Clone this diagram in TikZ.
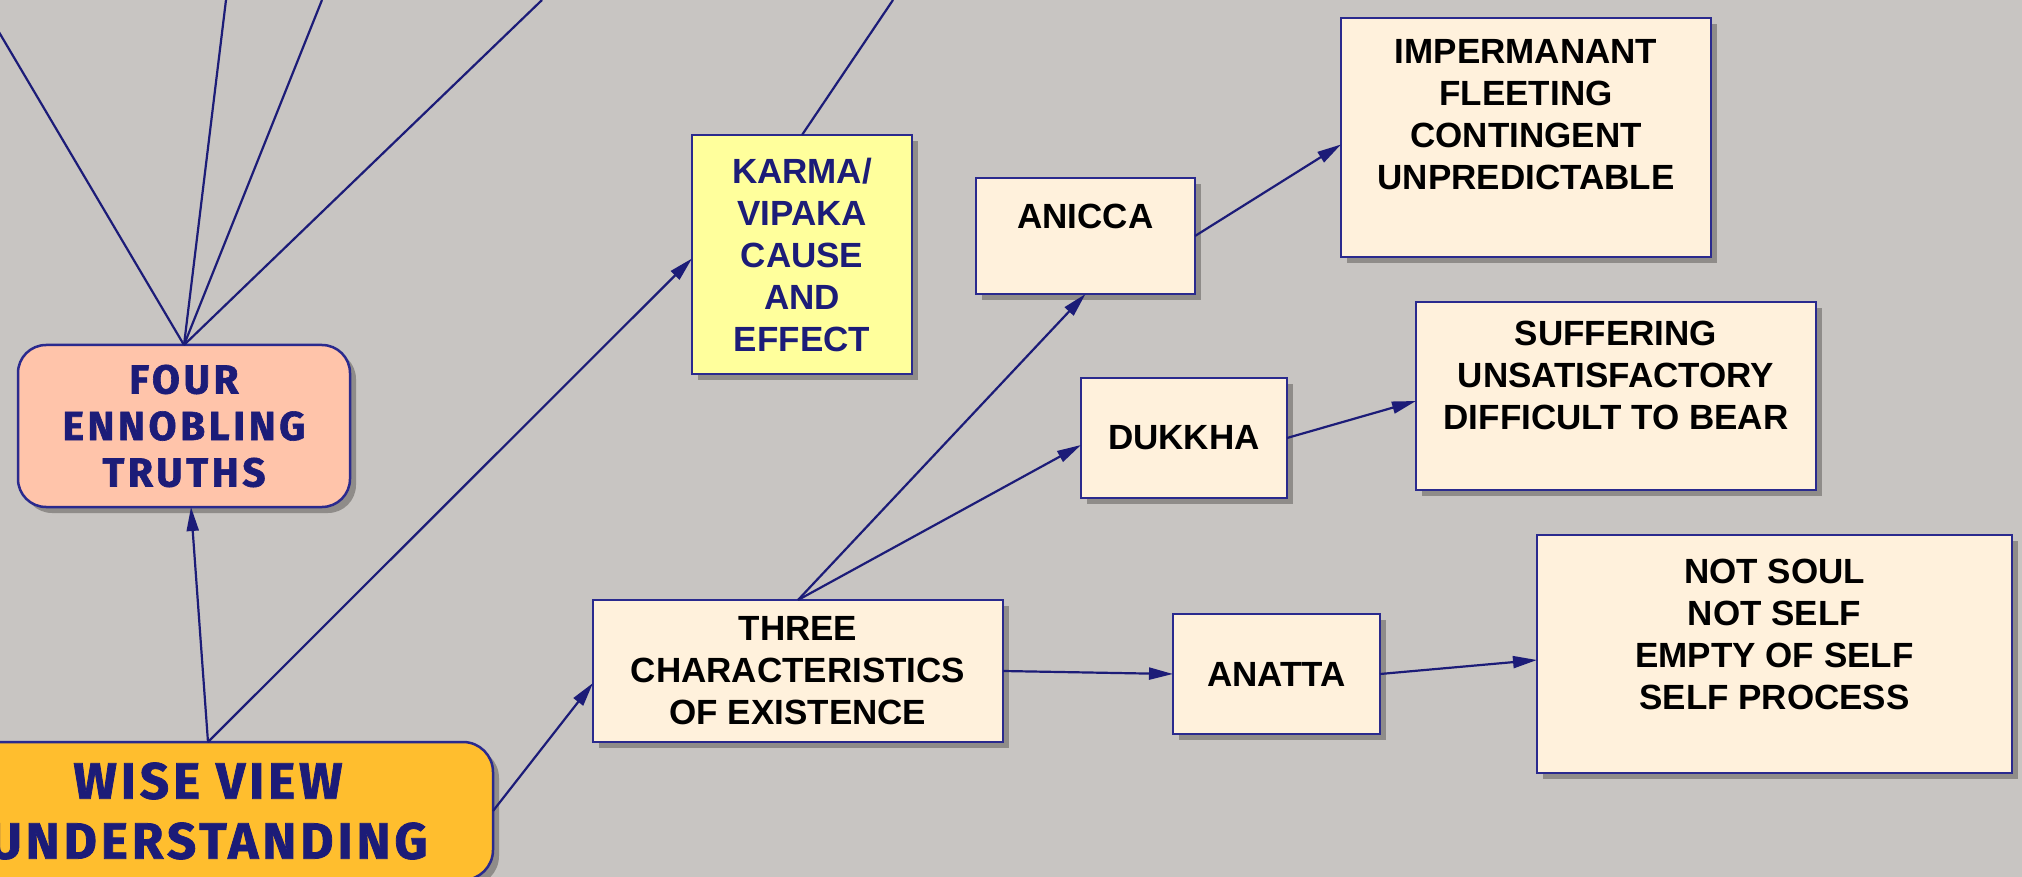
\documentclass[tikz,border=0pt]{standalone}
\usepackage{fontspec}
\setmainfont{Liberation Sans}
\newfontfamily\fancyfour{Fira Sans}[LetterSpace=9, BoldFeatures={FakeBold=1.5}]
\newfontfamily\fancywise{Fira Sans}[LetterSpace=8, BoldFeatures={FakeBold=1.5}]
\usetikzlibrary{arrows.meta,shadows,calc}
\definecolor{bg}{HTML}{C8C5C2}
\definecolor{navy}{HTML}{1C1C78}
\definecolor{edge}{HTML}{2A2A8E}
\definecolor{boxfill}{HTML}{FFF1DC}
\definecolor{karmafill}{HTML}{FFFF9C}
\definecolor{fourfill}{HTML}{FFC4AA}
\definecolor{wisefill}{HTML}{FFBE2E}
\definecolor{shade}{HTML}{8F8C89}
\newcommand\smallfont{\fontsize{35}{42}\selectfont\bfseries}
\newcommand\fourfont{\fontsize{40.5}{46.5}\selectfont\fancyfour\bfseries\color{navy}}
\newcommand\wisefont{\fontsize{51}{60}\selectfont\fancywise\bfseries\color{navy}}
\begin{document}
\begin{tikzpicture}[x=1pt,y=-1pt,
  cbox/.style={draw=edge, line width=2.5pt, fill=boxfill,
    drop shadow={shadow xshift=6pt,shadow yshift=-6pt,fill=shade,opacity=1},
    inner sep=0pt, outer sep=0pt, align=center, font=\smallfont},
  conn/.style={draw=navy, line width=2.2pt},
  arr/.style={conn, -{Triangle[length=24pt,width=12pt]}}]
\fill[bg] (0,0) rectangle (2022,877);
\useasboundingbox (0,0) rectangle (2022,877);
\clip (0,0) rectangle (2022,877);

% free ends at the top edge
\coordinate (t1) at (-20,0);
\coordinate (t2) at (226,0);
\coordinate (t3) at (322,0);
\coordinate (t4) at (542,0);
\coordinate (t5) at (893,0);

% nodes
\node[cbox, rounded corners=28pt, fill=fourfill, minimum width=332, minimum height=162, font=\fourfont] (four) at (184,426) {FOUR\\ENNOBLING\\TRUTHS};
\node[cbox, rounded corners=30pt, fill=wisefill, minimum width=570, minimum height=138, font=\wisefont] (wise) at (208,811) {WISE VIEW\\UNDERSTANDING};
\node[cbox, fill=karmafill, minimum width=220, minimum height=239, font=\smallfont\color{navy}] (karma) at (802,254.5) {KARMA/\\VIPAKA\\CAUSE\\AND\\EFFECT};
\node[cbox, minimum width=410, minimum height=142] (three) at (798,671) {THREE\\CHARACTERISTICS\\OF EXISTENCE};
\node[cbox, minimum width=219, minimum height=116] (anicca) at (1085.5,236) {\raisebox{20pt}[\height][\depth]{ANICCA}};
\node[cbox, minimum width=206, minimum height=120] (dukkha) at (1184,438) {DUKKHA};
\node[cbox, minimum width=207, minimum height=120] (anatta) at (1276.5,674) {ANATTA};
\node[cbox] (imp) at (1526,137.5) {\parbox[c][239pt][t]{370pt}{\centering\vspace*{21.5pt}IMPERMANANT\\FLEETING\\CONTINGENT\\UNPREDICTABLE}};
\node[cbox] (suf) at (1616,396) {\parbox[c][188pt][t]{400pt}{\centering\vspace*{19pt}SUFFERING\\UNSATISFACTORY\\DIFFICULT TO BEAR}};
\node[cbox] (soul) at (1774.5,654) {\parbox[c][238pt][t]{475pt}{\centering\vspace*{24.5pt}NOT SOUL\\NOT SELF\\EMPTY OF SELF\\SELF PROCESS}};

% connectors
\draw[conn] (four.north) -- (t1);
\draw[conn] (four.north) -- (t2);
\draw[conn] (four.north) -- (t3);
\draw[conn] (four.north) -- (t4);
\draw[conn] (karma.north) -- (t5);
\draw[arr] (wise.north) -- ($(four.south)+(7,0)$);
\draw[arr] (wise.north) -- ($(karma.west)+(0,4)$);
\draw[arr] (wise.east) -- ($(three.west)+(0,12)$);
\draw[arr] (three.north) -- (anicca.south);
\draw[arr] (three.north) -- ($(dukkha.west)+(0,7)$);
\draw[arr] (three.east) -- (anatta.west);
\draw[arr] (anicca.east) -- ($(imp.west)+(0,7)$);
\draw[arr] (dukkha.east) -- ($(suf.west)+(0,5)$);
\draw[arr] (anatta.east) -- ($(soul.west)+(0,6)$);
\end{tikzpicture}
\end{document}
